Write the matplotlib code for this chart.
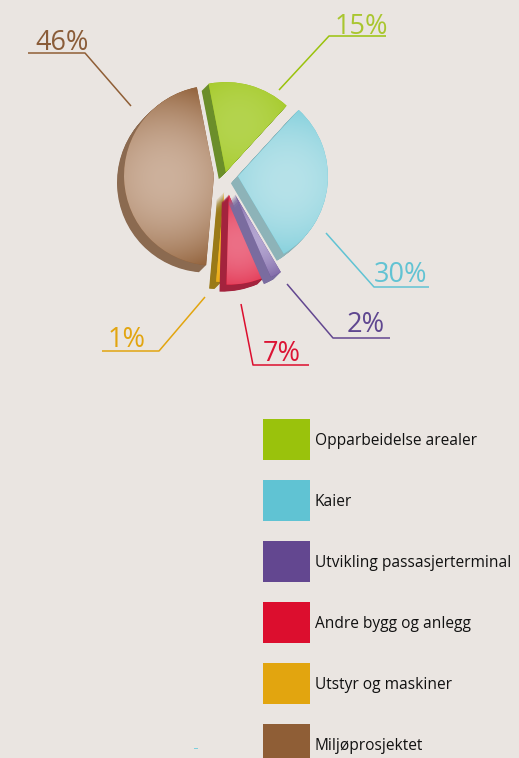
import numpy as np
import matplotlib.pyplot as plt
from matplotlib.colors import to_rgb
from matplotlib.patches import Rectangle

W, H = 519, 758
BG = '#eae5e1'
plt.rcParams['font.family'] = ['Open Sans', 'DejaVu Sans']

categories = ['Opparbeidelse arealer', 'Kaier', 'Utvikling passasjerterminal',
              'Andre bygg og anlegg', 'Utstyr og maskiner', 'Miljøprosjektet']
values = [15, 30, 2, 7, 1, 46]
explode = [3, 13, 22, 20, 17, 11]

colors = ['#9ac20c', '#60c3d3', '#634790', '#dc0e2e', '#e2a50f', '#8f5e36']
light = ['#b4d44e', '#b6e2e9', '#b3a5d0', '#ec6f86', '#f2b92a', '#cdb19c']
dark = ['#6b8e2a', '#8db3b8', '#7a6c9f', '#a3233d', '#9a7a18', '#8b6a50']
# draw order, back to front
order = [5, 0, 1, 4, 3, 2]

# leader lines in pixels from top left: outer end, elbow, pie end
leaders = [
    [(386, 36), (329, 36), (279, 90)],
    [(429, 287), (374, 287), (326, 233)],
    [(390, 338), (333, 338), (287, 284)],
    [(309, 365), (253, 365), (241, 304)],
    [(102, 351), (159, 351), (205, 297)],
    [(28, 53), (85, 53), (131, 106)],
]
label_pos = [(361, 27), (401, 275), (366, 325), (282, 354), (127, 340), (62, 43)]


def flip(y):
    return H - y


fig = plt.figure(figsize=(W / 100, H / 100), dpi=100, facecolor=BG)
ax = fig.add_axes([0, 0, 1, 1])

cx, cy = 225, flip(175)
R = 90
depth = 7
start = 101

xx, yy = np.meshgrid(np.arange(W) + 0.5, np.arange(H) + 0.5)

for i in order:
    z = 2 + order.index(i)
    # side of the slice: the same pie stacked down and to the left
    for d in np.arange(depth, 0, -0.5):
        side, _ = ax.pie(values, explode=explode, radius=R, center=(cx - d, cy - d),
                         startangle=start, counterclock=False, colors=dark, frame=True)
        for j, w in enumerate(side):
            if j == i:
                w.set_zorder(z)
            else:
                w.remove()

    top, _ = ax.pie(values, explode=explode, radius=R, center=(cx, cy),
                    startangle=start, counterclock=False, colors=colors, frame=True)
    for j, w in enumerate(top):
        if j != i:
            w.remove()
    w = top[i]
    w.set_zorder(z + 0.1)

    # lighter middle on each slice
    mid = np.deg2rad((w.theta1 + w.theta2) / 2)
    px = w.center[0] + 0.55 * R * np.cos(mid)
    py = w.center[1] + 0.55 * R * np.sin(mid)
    size = 0.55 * R + 0.55 * R * min(1, values[i] / 30)
    t = np.clip(np.hypot(xx - px, yy - py) / size, 0, 1) ** 2
    c0, c1 = np.array(to_rgb(light[i])), np.array(to_rgb(colors[i]))
    img = c0 + (c1 - c0) * t[..., None]
    im = ax.imshow(img, extent=(0, W, 0, H), origin='lower', zorder=z + 0.2, interpolation='bilinear')
    im.set_clip_path(w)

for pts, c in zip(leaders, colors):
    ax.plot([p[0] for p in pts], [flip(p[1]) for p in pts], color=c, lw=1.1, zorder=10,
            solid_capstyle='butt')

label_colors = ['#a9c62f', '#62c3d3', '#5f4790', '#dc1434', '#e2a50f', '#8a5c38']
for v, (lx, ly), c in zip(values, label_pos, label_colors):
    ax.text(lx, flip(ly), f'{v}%', color=c, fontsize=19.5, ha='center', va='center', zorder=11)

# legend
for k, (name, c) in enumerate(zip(categories, colors)):
    top_y = 419 + 61 * k
    ax.add_patch(Rectangle((263, flip(top_y + 41)), 47, 41, facecolor=c, edgecolor='none', zorder=5))
    ax.text(315, flip(top_y + 22), name, color='#111111', fontsize=11.2, va='center', ha='left', zorder=5)

# small stray speck at the bottom
ax.add_patch(Rectangle((194, flip(749)), 4, 1.5, facecolor='#7fcfdc', edgecolor='none'))

ax.set_xlim(0, W)
ax.set_ylim(0, H)
ax.set_aspect('auto')
ax.axis('off')
fig.savefig('out.png', dpi=100, facecolor=BG)
